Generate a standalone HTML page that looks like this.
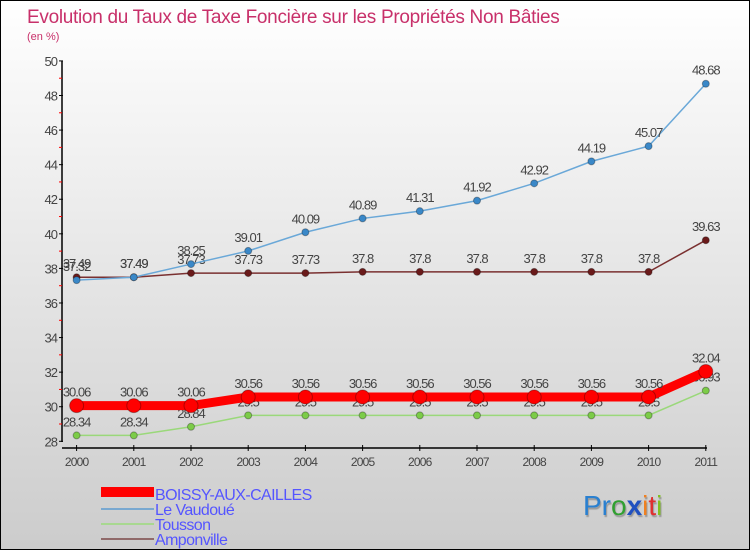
<!DOCTYPE html>
<html><head><meta charset="utf-8"><style>
body{margin:0}
#c{position:relative;width:748px;height:548px;border:1px solid #000;background:linear-gradient(#fff,#ccc);font-family:"Liberation Sans",sans-serif;overflow:hidden}
</style></head><body>
<div id="c">
<svg id="s" width="748" height="548" style="position:absolute;left:0;top:0">
<text x="26" y="22" font-size="19" fill="#c8306a" letter-spacing="-0.3">Evolution du Taux de Taxe Foncière sur les Propriétés Non Bâties</text>
<text x="26" y="39" font-size="11" fill="#c8306a">(en %)</text>
<g id="g"></g>
<rect x="100" y="486" width="53" height="10" fill="#f00"/>
<text x="154" y="499" font-size="16" fill="#5555ff" letter-spacing="-0.6">BOISSY-AUX-CAILLES</text>
<rect x="100" y="507" width="53" height="2" fill="#79a8d0"/>
<text x="154" y="514" font-size="16" fill="#5555ff" letter-spacing="-0.6">Le Vaudoué</text>
<rect x="100" y="522" width="53" height="2" fill="#a8d890"/>
<text x="154" y="529" font-size="16" fill="#5555ff" letter-spacing="-0.6">Tousson</text>
<rect x="100" y="537" width="53" height="2" fill="#906a6a"/>
<text x="154" y="544" font-size="16" fill="#5555ff" letter-spacing="-0.6">Amponville</text>
<text x="582" y="514" font-size="28" style="text-shadow:1px 2px 1px #999"><tspan fill="#2a80d0">Pr</tspan><tspan fill="#30a030">o</tspan><tspan fill="#2050c0" font-weight="bold">x</tspan><tspan fill="#f08020">i</tspan><tspan fill="#e03030">t</tspan><tspan fill="#80c020">i</tspan></text>
</svg>
</div>
<script>
const years=[2000,2001,2002,2003,2004,2005,2006,2007,2008,2009,2010,2011];
const yTicks=[28,30,32,34,36,38,40,42,44,46,48,50];
const boissy=[30.06,30.06,30.06,30.56,30.56,30.56,30.56,30.56,30.56,30.56,30.56,32.04];
const vaudoue=[37.32,37.49,38.25,39.01,40.09,40.89,41.31,41.92,42.92,44.19,45.07,48.68];
const tousson=[28.34,28.34,28.84,29.5,29.5,29.5,29.5,29.5,29.5,29.5,29.5,30.93];
const amponville=[37.49,37.49,37.73,37.73,37.73,37.8,37.8,37.8,37.8,37.8,37.8,39.63];
const NS='http://www.w3.org/2000/svg';
const g=document.getElementById('g');
const X=i=>75.6+i*57.2;
const Y=v=>440.3-(v-28)*17.29;
function mk(t,a){const e=document.createElementNS(NS,t);for(const k in a)e.setAttribute(k,a[k]);g.appendChild(e);return e;}
let e=mk('line',{x1:61,y1:60,x2:61,y2:441,stroke:'#000','stroke-width':1.5});


e=mk('line',{x1:61,y1:447,x2:706,y2:447,stroke:'#000','stroke-width':1.5});


yTicks.forEach((v,i)=>{
 mk('line',{x1:58,y1:Y(v),x2:62,y2:Y(v),stroke:'#000'});
 if(i<yTicks.length-1) mk('line',{x1:58,y1:Y(v+1),x2:61,y2:Y(v+1),stroke:'#f00'});
 const t=mk('text',{x:56,y:Y(v)+5,'font-size':13,fill:'#444','text-anchor':'end','letter-spacing':'-1'});
 t.textContent=v;
 
 
});
years.forEach((y,i)=>{
 mk('line',{x1:X(i),y1:444,x2:X(i),y2:450,stroke:'#000'});
 const t=mk('text',{x:X(i),y:465,'font-size':12,fill:'#444','text-anchor':'middle','letter-spacing':'-0.8'});
 t.textContent=y;
 
 
});
function series(d,col,w,r,fill,name){
 const p=mk('polyline',{points:d.map((v,i)=>X(i)+','+Y(v)).join(' '),fill:'none',stroke:col,'stroke-width':w});
 
 
 d.forEach((v,i)=>{
  const c=mk('circle',{cx:X(i),cy:Y(v),r:r,fill:fill,stroke:'rgba(0,0,0,0.3)'});
  
  
  const t=mk('text',{x:X(i),y:Y(v)-9,'font-size':13,fill:'#444','text-anchor':'middle','letter-spacing':'-1'});
  t.textContent=v;
  
  
 });
}
series(tousson,'#9ad87a',1.5,3.5,'#7ccc48','tousson');
series(amponville,'#7a3030',1.5,3.5,'#6a1a1a','amponville');
series(vaudoue,'#6aa8d8',1.5,3.5,'#3a88c8','vaudoue');
series(boissy,'#f00',9,7,'#f00','boissy');
</script>
</body></html>
